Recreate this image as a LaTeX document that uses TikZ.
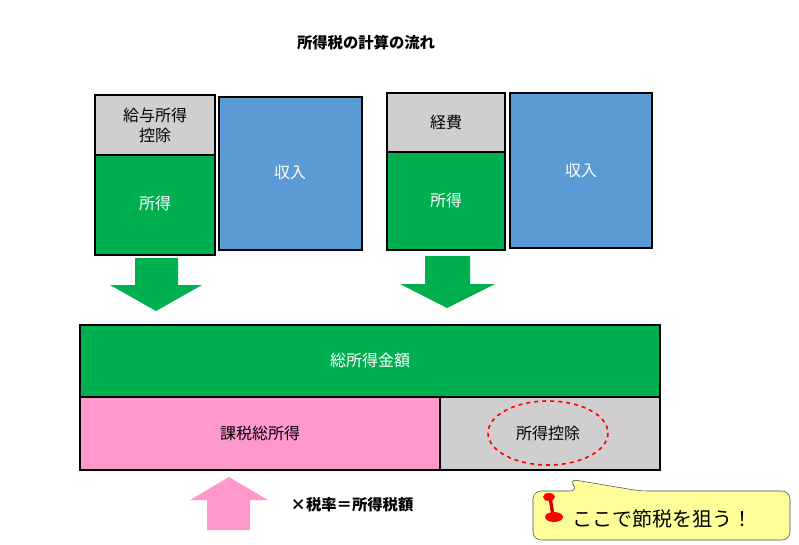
\documentclass[tikz,border=0pt]{standalone}
\usepackage{fontspec}
\setmainfont{Noto Sans CJK JP}
\usetikzlibrary{shapes.geometric}
\definecolor{gr}{HTML}{00B050}
\definecolor{bl}{HTML}{5B9BD5}
\definecolor{gy}{HTML}{D0CECE}
\definecolor{pk}{HTML}{FF99CC}
\definecolor{yl}{HTML}{FFFF99}
\tikzset{box/.style={draw=black,line width=1.2pt},
lbl/.style={font=\fontsize{12}{15}\selectfont},
whl/.style={font=\fontsize{12}{15}\selectfont,text=white}}
\begin{document}
\begin{tikzpicture}[x=0.75pt,y=-0.75pt]
\useasboundingbox (0,0) rectangle (799,544);
\node[font=\bfseries\fontsize{11.5}{13}\selectfont] (title) at (366,43) {所得税の計算の流れ};
% left group
\fill[box,fill=gy] (95,95) rectangle (215,155);
\fill[box,fill=gr] (95,155) rectangle (215,255);
\fill[box,fill=bl] (219,97) rectangle (362,250);
\node[lbl,align=center] (kyu) at (155,125) {給与所得\\控除};
\node[whl] (s1) at (155,203) {所得};
\node[whl] (i1) at (290,172) {収入};
% right group
\fill[box,fill=gy] (387,93) rectangle (505,152);
\fill[box,fill=gr] (387,152) rectangle (505,250);
\fill[box,fill=bl] (510,93) rectangle (652,248);
\node[lbl] (kei) at (446,122) {経費};
\node[whl] (s2) at (446,200) {所得};
\node[whl] (i2) at (581,170) {収入};
% arrows
\fill[gr] (135,258) -- (178,258) -- (178,285) -- (202,285) -- (156,311) -- (110,285) -- (135,285) -- cycle;
\fill[gr] (425,256) -- (470,256) -- (470,284) -- (495,284) -- (447,308) -- (400,284) -- (425,284) -- cycle;
% bottom
\fill[box,fill=gr] (80,325) rectangle (660,397);
\fill[box,fill=pk] (80,397) rectangle (440,470);
\fill[box,fill=gy] (440,397) rectangle (660,470);
\node[whl] (tot) at (370,360) {総所得金額};
\node[lbl] (kz) at (260,433) {課税総所得};
\node[lbl] (kj) at (548,433) {所得控除};
\draw[red,dashed,line width=1.2pt] (548,433) ellipse [x radius=60, y radius=32];
\fill[pk] (229,477) -- (268,500) -- (250,500) -- (250,530) -- (207,530) -- (207,500) -- (190,500) -- cycle;
\node[font=\bfseries\fontsize{11.5}{13}\selectfont] (rate) at (352,505) {×税率＝所得税額};
% callout
\draw[fill=yl,draw=black!70,rounded corners=6pt] (533,491) -- (578,491) -- (569,479) -- (640,491) -- (790,491) -- (790,540) -- (533,540) -- cycle;
\draw[red!80!black,line width=2.5pt] (550,497) -- (554,522);
\fill[red] (549,497) ellipse [x radius=6, y radius=4];
\fill[red] (554,517) ellipse [x radius=9, y radius=5];
\node[font=\fontsize{15}{17}\selectfont,anchor=west] (koko) at (568,519) {ここで節税を狙う！};
\end{tikzpicture}
\end{document}
